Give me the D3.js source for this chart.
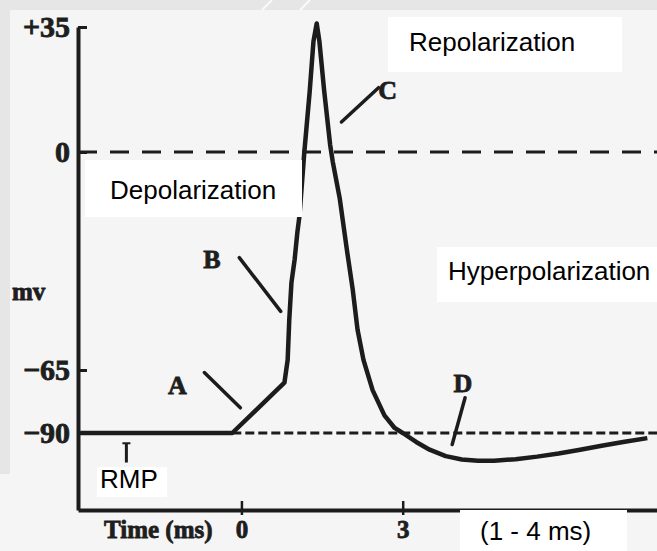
<!DOCTYPE html>
<html>
<head>
<meta charset="utf-8">
<script src="https://cdn.jsdelivr.net/npm/d3@7"></script>
<style>
    body { margin: 0; background: #f5f5f5; }
    svg { display: block; }
    .lbl { font-family: "Liberation Serif", "Times New Roman", serif; font-weight: bold; fill: #1e1e1e; stroke: #1e1e1e; stroke-width: 0.8px; }
    .box text { font-family: "Liberation Sans", Arial, sans-serif; font-size: 26px; fill: #000; }
</style>
</head>
<body>
<svg width="657" height="551"></svg>
<script>
// y ticks (mV) and x ticks (ms)
var yTicks = [35, 0, -65, -90];
var xTicks = [0, 3];

// action potential trace: time (ms), membrane potential (mV)
var apTime = [-3.0, -0.17, 0.80, 0.86, 0.89, 0.93, 0.99, 1.04, 1.08, 1.17, 1.27, 1.34, 1.40,
    1.45, 1.54, 1.65, 1.70, 1.83, 1.96, 2.07, 2.16, 2.27, 2.44, 2.66, 2.85, 3.00,
    3.25, 3.50, 3.80, 4.10, 4.40, 4.70, 5.10, 5.50, 5.90, 6.30, 6.70, 7.10, 7.55];
var apVolt = [-90, -90, -70, -62, -50, -39, -32, -24, -19, 0, 17, 31, 36,
    31, 17, 2, -3, -14, -29, -41, -53, -62, -73, -83, -88, -90,
    -93.5, -96.5, -99, -100.3, -100.8, -100.8, -100.2, -99.2, -98, -96.5, -95, -93.5, -92];

// letters with pointer lines: label position, line start, line end
var notes = [
    { name: "A", t: -1.19, v: -71, t1: -0.69, v1: -66, t2: -0.02, v2: -80 },
    { name: "B", t: -0.55, v: -32, t1: -0.04, v1: -31.5, t2: 0.73, v2: -47.5 },
    { name: "C", t: 2.72, v: 17.4, t1: 2.55, v1: 18, t2: 1.86, v2: 8.4 },
    { name: "D", t: 4.12, v: -70, t1: 4.16, v1: -76, t2: 3.92, v2: -94.5 }
];

// white label boxes pasted over the scan
var boxes = [
    { text: "Repolarization", x: 388, y: 17, w: 234, h: 55, tx: 409, ty: 51 },
    { text: "Depolarization", x: 85, y: 160, w: 217, h: 57, tx: 110, ty: 199 },
    { text: "Hyperpolarization", x: 437, y: 247, w: 220, h: 55, tx: 448, ty: 280 },
    { text: "RMP", x: 97, y: 467, w: 70, h: 30, tx: 100, ty: 488 },
    { text: "(1 - 4 ms)", x: 460, y: 510, w: 167, h: 41, tx: 480, ty: 540 }
];

var svg = d3.select("svg");
var ink = "#1c1c1c";

var x = d3.scaleLinear().domain([-3.04, 7.73]).range([78, 657]);
// schematic axis: spacing between the marked values is not uniform
var y = d3.scaleLinear().domain([-120, -90, -65, 0, 35]).range([510, 433, 370, 152, 27]);

// slide frame (grey strips at the top and left)
svg.append("rect").attr("x", 0).attr("y", 0).attr("width", 657).attr("height", 10).attr("fill", "#e6e6e6");
svg.append("rect").attr("x", 0).attr("y", 0).attr("width", 10).attr("height", 474).attr("fill", "#e6e6e6");
svg.append("path").attr("d", "M262,10 L272,0 M300,10 L310,0")
    .attr("stroke", "#fafafa").attr("stroke-width", 2);

// dashed reference lines at 0 and -90 mV
svg.append("line")
    .attr("x1", x(-3.04)).attr("x2", x(7.73))
    .attr("y1", y(0)).attr("y2", y(0))
    .attr("stroke", ink).attr("stroke-width", 3)
    .attr("stroke-dasharray", "19,13");
svg.append("line")
    .attr("x1", x(-0.17)).attr("x2", x(7.73))
    .attr("y1", y(-90)).attr("y2", y(-90))
    .attr("stroke", ink).attr("stroke-width", 3)
    .attr("stroke-dasharray", "9,4");

// y axis
var yAxis = svg.append("g")
    .attr("transform", `translate(${x(-3.04)},0)`)
    .call(d3.axisLeft(y).tickValues(yTicks).tickSizeInner(-9).tickSizeOuter(0).tickPadding(8)
        .tickFormat(d => d > 0 ? "+" + d : d < 0 ? "\u2212" + Math.abs(d) : "0"));
yAxis.select(".domain").attr("stroke", ink).attr("stroke-width", 4);
yAxis.selectAll(".tick line").attr("stroke", ink).attr("stroke-width", 3);
yAxis.selectAll(".tick text").attr("class", "lbl").attr("font-size", 30).attr("dy", "0.33em");

// x axis
var xAxis = svg.append("g")
    .attr("transform", `translate(0,${y(-120)})`)
    .call(d3.axisBottom(x).tickValues(xTicks).tickSizeInner(5).tickSizeOuter(0).tickPadding(5));
xAxis.select(".domain").attr("stroke", ink).attr("stroke-width", 4);
xAxis.selectAll(".tick line").attr("y1", -9).attr("stroke", ink).attr("stroke-width", 2.5);
xAxis.selectAll(".tick text").attr("class", "lbl").attr("font-size", 25).attr("dy", "0.72em");

svg.append("text").attr("class", "lbl").attr("font-size", 25)
    .attr("x", 104).attr("y", 538).text("Time (ms)");
svg.append("text").attr("class", "lbl").attr("font-size", 25)
    .attr("x", 12).attr("y", 300).text("mv");

// the action potential
var line = d3.line().x(d => x(d[0])).y(d => y(d[1]));
svg.append("path")
    .datum(apTime.map((t, i) => [t, apVolt[i]]))
    .attr("d", line)
    .attr("fill", "none")
    .attr("stroke", ink)
    .attr("stroke-width", 4.5)
    .attr("stroke-linejoin", "round");

// RMP marker
svg.append("line")
    .attr("x1", x(-2.14)).attr("x2", x(-2.14))
    .attr("y1", y(-94)).attr("y2", y(-101.5))
    .attr("stroke", ink).attr("stroke-width", 3);
svg.append("line")
    .attr("x1", x(-2.14) - 4).attr("x2", x(-2.14) + 4)
    .attr("y1", y(-94)).attr("y2", y(-94))
    .attr("stroke", ink).attr("stroke-width", 2);

// letter callouts
var g = svg.selectAll("g.note").data(notes).enter().append("g").attr("class", "note");
g.append("line")
    .attr("x1", d => x(d.t1)).attr("y1", d => y(d.v1))
    .attr("x2", d => x(d.t2)).attr("y2", d => y(d.v2))
    .attr("stroke", ink).attr("stroke-width", 3.5).attr("stroke-linecap", "round");
g.append("text")
    .attr("class", "lbl")
    .attr("font-size", 26)
    .attr("text-anchor", "middle")
    .attr("x", d => x(d.t)).attr("y", d => y(d.v))
    .attr("dy", "0.35em")
    .text(d => d.name);

// pasted text boxes
var b = svg.selectAll("g.box").data(boxes).enter().append("g").attr("class", "box");
b.append("rect")
    .attr("x", d => d.x).attr("y", d => d.y)
    .attr("width", d => d.w).attr("height", d => d.h)
    .attr("fill", "#fff");
b.append("text")
    .attr("x", d => d.tx).attr("y", d => d.ty)
    .text(d => d.text);
</script>
</body>
</html>
